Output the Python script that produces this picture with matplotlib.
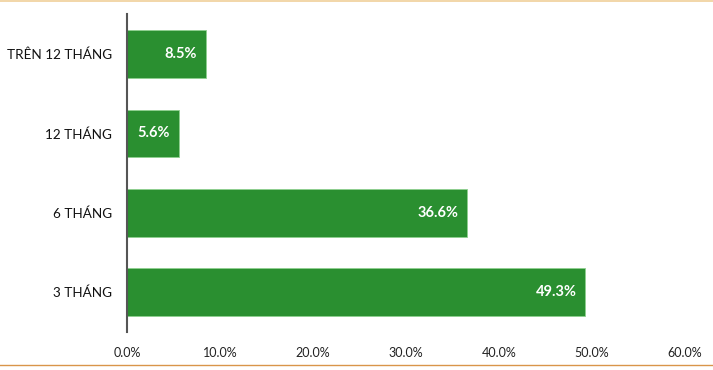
"""Horizontal bar chart: share by term length."""
import matplotlib
matplotlib.use("Agg")
import matplotlib.pyplot as plt
from matplotlib.lines import Line2D

categories = ["3 THÁNG", "6 THÁNG", "12 THÁNG", "TRÊN 12 THÁNG"]
values = [49.3, 36.6, 5.6, 8.5]
xticks = [0, 10, 20, 30, 40, 50, 60]

plt.rcParams["font.family"] = ["Lato", "DejaVu Sans"]

fig = plt.figure(figsize=(7.13, 3.7), dpi=100)
ax = fig.add_axes([127 / 713, (370 - 331.75) / 370,
                   (685 - 127) / 713, (331.75 - 14.25) / 370])

bars = ax.barh(range(len(categories)), values, height=0.6,
               color="#2A8F30", edgecolor="#8fd08f", linewidth=0.6)
for bar, val in zip(bars, values):
    ax.annotate(f"{val:.1f}%",
                xy=(bar.get_width(), bar.get_y() + bar.get_height() / 2),
                xytext=(-6.5, 0), textcoords="offset points",
                ha="right", va="center", color="white",
                fontsize=10.5, fontweight="bold")

ax.set_yticks(range(len(categories)))
ax.set_yticklabels(categories, fontsize=9.7, color="#111111")
ax.set_xticks(xticks)
ax.set_xticklabels([f"{t:.1f}%" for t in xticks], fontsize=9, color="#222222")
ax.set_xlim(0, 60)
ax.set_ylim(-0.5, 3.5)
ax.tick_params(axis="both", length=0)
ax.tick_params(axis="y", pad=11)
ax.tick_params(axis="x", pad=11)
for side in ["top", "right", "bottom"]:
    ax.spines[side].set_visible(False)
ax.spines["left"].set_color("#555555")
ax.spines["left"].set_linewidth(1.5)

# thin orange frame lines at top and bottom
fig.add_artist(Line2D([0, 1], [369.2 / 370] * 2, color="#F0CF99",
                      linewidth=1.2, transform=fig.transFigure))
fig.add_artist(Line2D([0, 1], [5.5 / 370] * 2, color="#D9954A",
                      linewidth=1.0, transform=fig.transFigure))

fig.savefig("out.png", dpi=100)
